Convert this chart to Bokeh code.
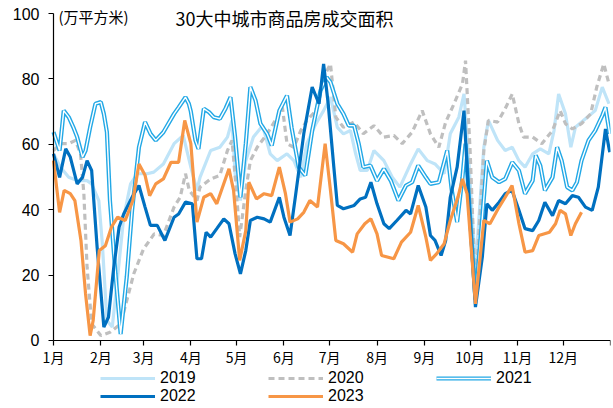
from bokeh.plotting import figure
from bokeh.models import Range1d, FixedTicker, Legend, LegendItem, Label
from bokeh.embed import file_html
from bokeh.resources import INLINE

# x = day of year, values in 万平方米
month_starts = [0, 31, 59, 90, 120, 151, 181, 212, 243, 273, 304, 334, 365]
month_labels = ["1月", "2月", "3月", "4月", "5月", "6月", "7月", "8月", "9月", "10月", "11月", "12月", ""]
y_ticks = [0, 20, 40, 60, 80, 100]

d2019 = [0, 4.6, 10, 15.5, 22, 25, 29.7, 32, 35, 38.5,
         42, 46, 50.5, 55, 61.4, 65.7, 72, 79, 85, 90,
         94, 96, 103, 109, 114, 117, 119, 122.5, 126, 131,
         137, 142, 146.6, 153, 157.5, 162, 166, 172, 177, 181.5,
         186, 190, 194.6, 198, 201, 205.6, 210, 216.5, 222, 227,
         234, 239, 245, 250, 256, 260, 265.6, 269, 272, 276.5,
         282, 285, 291, 296, 300.6, 305, 309, 314, 319, 324.6,
         328, 331, 335.5, 339, 342, 348.6, 355, 359.6, 364]
v2019 = [57.1, 53.0, 49.9, 48.9, 48.9, 47.9, 42.8, 29.6, 6.1, 4.1,
         19.4, 37.7, 47.9, 51.0, 51.0, 51.5, 54.0, 60.2, 62.7, 53.0,
         45.9, 49.9, 58.1, 59.1, 62.2, 67.3, 51.0, 42.8, 55.0, 62.2,
         65.7, 57.1, 55.0, 57.1, 55.0, 49.9, 60.2, 66.3, 70.3, 74.4,
         65.2, 63.2, 64.2, 57.1, 52.0, 52.0, 58.1, 55.0, 49.9, 46.9,
         54.0, 58.6, 55.0, 54.0, 51.0, 63.2, 68.3, 75.4, 56.1, 22.0,
         59.1, 67.3, 61.2, 58.1, 59.1, 55.0, 53.0, 57.1, 58.6, 57.1,
         64.2, 75.4, 69.3, 59.1, 65.2, 67.8, 70.3, 77.5, 72.4]

d2020 = [0, 4.6, 10, 14.4, 17.7, 19.9, 22, 25, 31, 37,
         44, 48, 52.6, 59, 66, 72, 79, 83, 86.5, 89,
         94, 96, 103, 109, 114, 117, 120, 122, 126, 129,
         133.5, 140, 146.6, 150, 153, 157.5, 162, 166, 172, 177,
         181.5, 185, 190, 197, 203, 210, 216.5, 223, 228.5, 235,
         241.6, 247, 252.5, 257, 262, 268, 270, 273, 276.5, 282,
         285, 291, 296, 300.6, 305, 308, 314, 320, 327, 332,
         335.5, 340, 346, 352, 356, 360.6, 364]
v2020 = [58.1, 60.2, 60.2, 61.2, 57.1, 44.9, 22.4, 5.1, 1.5, 2.5,
         5.1, 12.2, 20.4, 28.0, 32.6, 32.1, 40.8, 43.8, 51.0, 45.9,
         42.8, 46.9, 49.4, 50.5, 58.1, 61.2, 44.9, 31.6, 45.9, 55.0,
         59.1, 63.2, 68.3, 71.3, 60.2, 59.1, 64.2, 67.3, 70.3, 80.5,
         84.6, 68.3, 65.2, 66.8, 63.2, 65.7, 62.2, 62.7, 60.2, 63.7,
         70.3, 63.2, 59.1, 66.8, 71.9, 78.5, 85.6, 58.1, 15.0, 58.1,
         67.3, 66.8, 70.9, 75.4, 66.3, 62.2, 62.2, 60.2, 64.2, 70.3,
         66.3, 64.7, 66.3, 69.3, 77.5, 84.6, 78.5]

d2021 = [0, 4, 6.7, 10, 13, 15.5, 19, 21, 24, 27.5,
         31, 33, 35, 37, 40.6, 44, 48, 51.5, 56, 60,
         63.6, 67, 72, 79, 82, 86.5, 88.7, 90, 93, 95,
         98.5, 102, 105, 109, 112.7, 116, 119, 122.5, 126, 129,
         132.4, 135.6, 140, 143, 148, 153, 156, 160.7, 165, 169.5,
         175, 179, 181.5, 186, 190, 193.5, 197, 200, 203, 207.7,
         212, 216.5, 221, 226, 231, 235, 239, 244, 247, 252.5,
         258, 261, 264.5, 268, 270, 273, 276.5, 281, 284, 287.5,
         292, 296, 300.6, 305, 309, 314, 316, 319, 322, 327,
         330, 333, 336.6, 340, 343, 346, 350.6, 355, 359.6, 361.7,
         364.5]
v2021 = [63.7, 58.1, 70.3, 68.3, 65.2, 62.2, 56.1, 58.1, 65.2, 72.4,
         72.9, 69.3, 63.7, 42.8, 20.4, 2.0, 19.4, 39.8, 59.1, 66.8,
         63.2, 61.2, 63.7, 69.3, 71.3, 74.4, 72.4, 70.0, 61.2, 58.6,
         70.9, 69.8, 68.3, 67.8, 70.9, 74.4, 62.2, 43.8, 60.2, 77.5,
         73.4, 66.3, 63.2, 59.6, 70.3, 74.9, 65.2, 53.0, 50.5, 64.2,
         76.5, 80.5, 79.0, 72.4, 69.3, 65.7, 65.7, 60.2, 53.0, 53.5,
         48.9, 52.5, 48.9, 42.8, 47.4, 48.4, 53.5, 49.9, 47.9, 48.4,
         58.1, 45.9, 36.2, 49.9, 60.2, 37.7, 12.5, 37.7, 55.0, 49.9,
         48.4, 49.4, 54.5, 52.0, 44.9, 48.9, 56.6, 53.5, 45.9, 49.9,
         59.1, 55.0, 46.9, 45.9, 48.4, 55.0, 61.2, 64.2, 68.8, 71.3,
         63.2]

d2022 = [0, 4, 8, 11, 15.5, 19, 22, 25, 28.6, 33,
         36, 39.5, 43, 46, 51.5, 56, 60, 63.5, 68, 73,
         79, 82, 86.5, 91, 94, 97, 100, 103, 107, 111.6,
         115, 119, 122.5, 126, 129, 133.5, 138, 142, 148, 151,
         155, 158.6, 164, 169.5, 174, 177, 180, 183.7, 186, 190,
         197, 201, 204.5, 208, 212, 216.5, 220, 225, 231, 234,
         239, 244, 247, 250, 254, 257, 260, 264.5, 269, 273,
         276.5, 281, 284, 287.5, 292, 296, 300.5, 305, 309, 314,
         318, 322, 327, 331, 335.5, 340, 344, 348.6, 353, 357,
         361.7, 364.5]
v2022 = [57.1, 49.9, 58.6, 56.1, 47.9, 49.9, 55.0, 52.0, 28.5, 4.1,
         7.1, 22.4, 34.7, 38.7, 43.8, 47.4, 40.8, 35.2, 35.2, 30.6,
         37.7, 38.7, 42.3, 41.8, 25.0, 25.0, 33.1, 31.6, 34.2, 37.2,
         35.7, 26.5, 20.4, 27.5, 36.7, 37.7, 37.2, 36.2, 43.8, 37.7,
         32.1, 44.3, 63.2, 77.5, 72.4, 84.6, 72.4, 53.0, 41.3, 40.3,
         41.3, 43.3, 43.8, 48.4, 41.8, 35.7, 34.2, 36.7, 39.8, 38.7,
         47.4, 40.8, 32.1, 30.6, 26.0, 30.6, 43.8, 53.0, 70.3, 35.7,
         10.2, 25.5, 41.8, 39.8, 42.3, 44.9, 45.9, 39.8, 34.2, 33.6,
         36.7, 42.3, 38.2, 42.8, 41.8, 44.3, 43.8, 40.8, 39.8, 46.9,
         64.7, 57.6]

d2023 = [0, 4, 7, 11, 14, 18, 21, 24, 26, 30,
         34, 38, 42, 47, 52, 56, 60, 63, 67, 72,
         77, 82, 86, 90, 94, 98.5, 103, 107, 115, 118,
         122, 126, 128, 133, 138, 143, 148, 152, 155, 160,
         164, 168, 173, 178, 181.5, 185, 190, 196, 199, 204,
         208, 212, 215, 223, 228, 234, 239, 244, 247, 251,
         256, 260, 265, 268, 271, 276.5, 282, 286, 292, 296,
         300.5, 305, 309, 314, 318, 325, 329, 332, 335.5, 339,
         342, 346]
v2023 = [55.0, 39.2, 45.9, 44.9, 42.8, 30.6, 14.3, 1.5, 6.1, 27.5,
         29.0, 34.7, 37.7, 36.7, 42.8, 54.0, 50.5, 44.3, 47.9, 49.4,
         54.5, 54.5, 67.3, 60.2, 36.2, 43.8, 44.9, 41.8, 52.5, 45.9,
         24.5, 33.6, 48.4, 43.3, 44.9, 44.3, 53.0, 44.9, 36.2, 37.2,
         39.2, 42.8, 40.8, 60.2, 45.9, 30.6, 29.6, 27.0, 32.6, 35.7,
         37.2, 32.6, 26.0, 25.0, 30.1, 33.1, 41.3, 31.6, 24.5, 26.5,
         29.6, 36.7, 43.8, 49.4, 44.9, 11.2, 36.7, 35.7, 40.8, 43.8,
         47.4, 35.7, 27.0, 27.5, 32.1, 33.1, 35.7, 39.8, 38.7, 32.1,
         35.7, 39.2]

LAT = "Liberation Sans"
CJK = "Noto Sans CJK SC"

# the frame covers the whole canvas; both axes are pinned at 0
p = figure(width=613, height=408, output_backend="svg", toolbar_location=None,
           x_range=Range1d(-34.73, 365), y_range=Range1d(-20.8, 103.98),
           min_border_left=0, min_border_right=3, min_border_top=0, min_border_bottom=0)
p.outline_line_color = None
p.xgrid.visible = False
p.ygrid.visible = False
p.background_fill_color = "white"
p.border_fill_color = "white"

r19 = p.line(d2019, v2019, line_color="#BFE4F8", line_width=3.2)
r20 = p.line(d2020, v2020, line_color="#BFBFBF", line_width=3.2, line_dash="6 4")
r21a = p.line(d2021, v2021, line_color="#22A8E6", line_width=4.2)
r21b = p.line(d2021, v2021, line_color="white", line_width=1.4)
r22 = p.line(d2022, v2022, line_color="#0070C0", line_width=3.2)
r23 = p.line(d2023, v2023, line_color="#F79646", line_width=3.2)

# axes
p.xaxis.ticker = FixedTicker(ticks=month_starts)
p.xaxis.major_label_overrides = {m: l for m, l in zip(month_starts, month_labels)}
p.xaxis.fixed_location = 0
p.xaxis.bounds = (0, 365)
p.yaxis.ticker = FixedTicker(ticks=y_ticks)
p.yaxis.fixed_location = 0
p.yaxis.bounds = (0, 100)
for ax in (p.xaxis[0], p.yaxis[0]):
    ax.axis_line_color = "black"
    ax.axis_line_width = 1.2
    ax.major_tick_line_color = "black"
    ax.major_tick_line_width = 1.2
    ax.major_tick_in = 0
    ax.major_tick_out = 5
    ax.minor_tick_line_color = None
    ax.major_label_text_color = "black"
p.xaxis.major_label_text_font = CJK
p.xaxis.major_label_text_font_size = "14px"
p.xaxis.major_label_standoff = 2
p.yaxis.major_label_text_font = LAT
p.yaxis.major_label_text_font_size = "16px"
p.yaxis.major_label_standoff = 9

# titles
p.add_layout(Label(x=3.3, y=99, text="(万平方米)", text_font=CJK, text_font_size="15px",
                   text_baseline="middle", text_color="black"))
p.add_layout(Label(x=80, y=98.5, text="30大中城市商品房成交面积", text_font=CJK,
                   text_font_size="18px", text_baseline="middle", text_color="black"))

legend = Legend(items=[
    LegendItem(label="2019", renderers=[r19]),
    LegendItem(label="2020", renderers=[r20]),
    LegendItem(label="2021", renderers=[r21a, r21b]),
    LegendItem(label="2022", renderers=[r22]),
    LegendItem(label="2023", renderers=[r23]),
], orientation="horizontal", ncols=3, location=(100, 3))
legend.label_text_font = LAT
legend.label_text_font_size = "16px"
legend.label_text_color = "black"
legend.glyph_width = 55
legend.glyph_height = 16
legend.label_height = 16
legend.label_width = 108
legend.label_standoff = 5
legend.spacing = 0
legend.padding = 0
legend.margin = 0
legend.border_line_color = None
legend.background_fill_alpha = 0
p.add_layout(legend)

open("out.html", "w").write(file_html(p, INLINE))
